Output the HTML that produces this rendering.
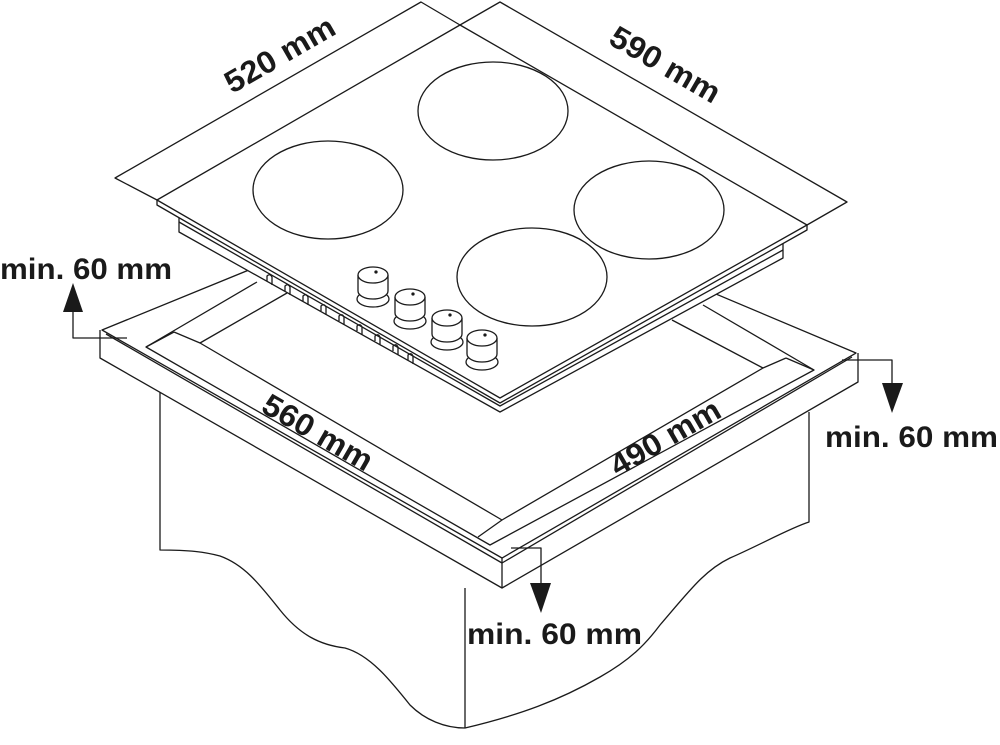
<!DOCTYPE html>
<html><head><meta charset="utf-8"><style>
html,body{margin:0;padding:0;background:#fff;width:1000px;height:745px;overflow:hidden}
svg{display:block}
text{font-family:"Liberation Sans",Arial,sans-serif;font-weight:bold;fill:#1a1a1a}
</style></head><body>
<svg width="1000" height="745" viewBox="0 0 1000 745" xmlns="http://www.w3.org/2000/svg">
<defs>
<g id="k" fill="none" stroke="#1a1a1a" stroke-width="1.3">
<ellipse cx="0" cy="24" rx="16" ry="8" fill="#fff"/>
<path d="M-15,0 L-15,16 A15,8 0 0 0 15,16 L15,0" fill="#fff"/>
<ellipse cx="0" cy="0" rx="15" ry="8" fill="#fff"/>
<circle cx="3" cy="-3" r="1" fill="#1a1a1a"/>
</g>
</defs>
<g fill="none" stroke="#1a1a1a" stroke-width="1.3" stroke-linejoin="round">
<!-- cabinet -->
<path d="M160,392 L160,550 C190,550 205,552 220,556 C245,565 260,585 280,610 C300,635 320,645 345,648 C370,655 390,680 410,705 C425,720 445,728 465,728 C520,715 560,700 600,677 C630,660 645,645 660,625 C690,590 705,570 730,558 C760,545 790,528 809,522 L809,412"/>
<line x1="465" y1="588" x2="465" y2="728"/>
<!-- worktop -->
<path d="M102,330 L457,185 L856,353 L502,558 Z" fill="#fff"/>
<path d="M100,330 L100,358 L502,588 L858,382 L858,353"/>
<line x1="502" y1="558" x2="502" y2="588"/>
<polyline points="106,334 502,563 852,357"/>
<!-- cutout / frame -->
<polyline points="257,282 146,347 490,545 814,370 703,305"/>
<polyline points="287,293 200,343 502,520 763,368 672,320"/>
<line x1="146" y1="347" x2="174" y2="332"/>
<line x1="174" y1="332" x2="200" y2="343"/>
<line x1="478" y1="537" x2="502" y2="520"/>
<line x1="814" y1="370" x2="786" y2="358"/>
<line x1="786" y1="358" x2="763" y2="368"/>
<!-- hob body -->
<path d="M179,215 L179,232 L500,412 L783,258 L783,240 Z" fill="#fff"/>
<polyline points="179,222 500,406 783,250"/>
<!-- vents -->
<path d="M267,281 l0,-5 q3,-3 5,1 l0,8 M285,291 l0,-5 q3,-3 5,1 l0,8 M303,301 l0,-5 q3,-3 5,1 l0,8 M321,311 l0,-5 q3,-3 5,1 l0,8 M339,321 l0,-5 q3,-3 5,1 l0,8 M357,331 l0,-5 q3,-3 5,1 l0,8 M375,341 l0,-5 q3,-3 5,1 l0,8 M393,351 l0,-5 q3,-3 5,1 l0,8 M408,360 l0,-5 q3,-3 5,1 l0,8"/>
<!-- glass -->
<path d="M157,200 L157,205 L500,403 L807,230 L807,225" fill="#fff"/>
<path d="M157,200 L460,25 L807,225 L500,398 Z" fill="#fff"/>
<!-- burners -->
<ellipse cx="328" cy="190" rx="75" ry="49"/>
<ellipse cx="493" cy="111" rx="75" ry="49"/>
<ellipse cx="649" cy="210" rx="75" ry="49"/>
<ellipse cx="532" cy="277" rx="75" ry="49"/>
<!-- dimension lines -->
<polyline points="157,200 115,178 421,2 460,25"/>
<polyline points="460,25 500,2 847,202 807,225"/>
<!-- arrows -->
<polyline points="127,338 73,338 73,310"/>
<polyline points="842,360 892,360 892,385"/>
<polyline points="511,548 541,548 541,585"/>
</g>
<use href="#k" transform="translate(373,275)"/>
<use href="#k" transform="translate(410,297)"/>
<use href="#k" transform="translate(447,318)"/>
<use href="#k" transform="translate(482,338)"/>
<g fill="#1a1a1a">
<polygon points="73,283 63,312 83,312"/>
<polygon points="892,413 882,383 903,383"/>
<polygon points="541,613 530,583 551,583"/>
</g>
<text x="280" y="65" font-size="31" text-anchor="middle" textLength="122" lengthAdjust="spacingAndGlyphs" transform="rotate(-30 280 55)">520 mm</text>
<text x="665" y="75" font-size="31" text-anchor="middle" textLength="122" lengthAdjust="spacingAndGlyphs" transform="rotate(30 665 65)">590 mm</text>
<text x="318" y="443" font-size="31" text-anchor="middle" textLength="122" lengthAdjust="spacingAndGlyphs" transform="rotate(30 318 432)">560 mm</text>
<text x="665" y="448" font-size="31" text-anchor="middle" textLength="122" lengthAdjust="spacingAndGlyphs" transform="rotate(-30 665 437)">490 mm</text>
<text x="0" y="279" font-size="30" textLength="172" lengthAdjust="spacingAndGlyphs">min. 60 mm</text>
<text x="825" y="447" font-size="30" textLength="173" lengthAdjust="spacingAndGlyphs">min. 60 mm</text>
<text x="467" y="644" font-size="30" textLength="175" lengthAdjust="spacingAndGlyphs">min. 60 mm</text>
</svg>
</body></html>
